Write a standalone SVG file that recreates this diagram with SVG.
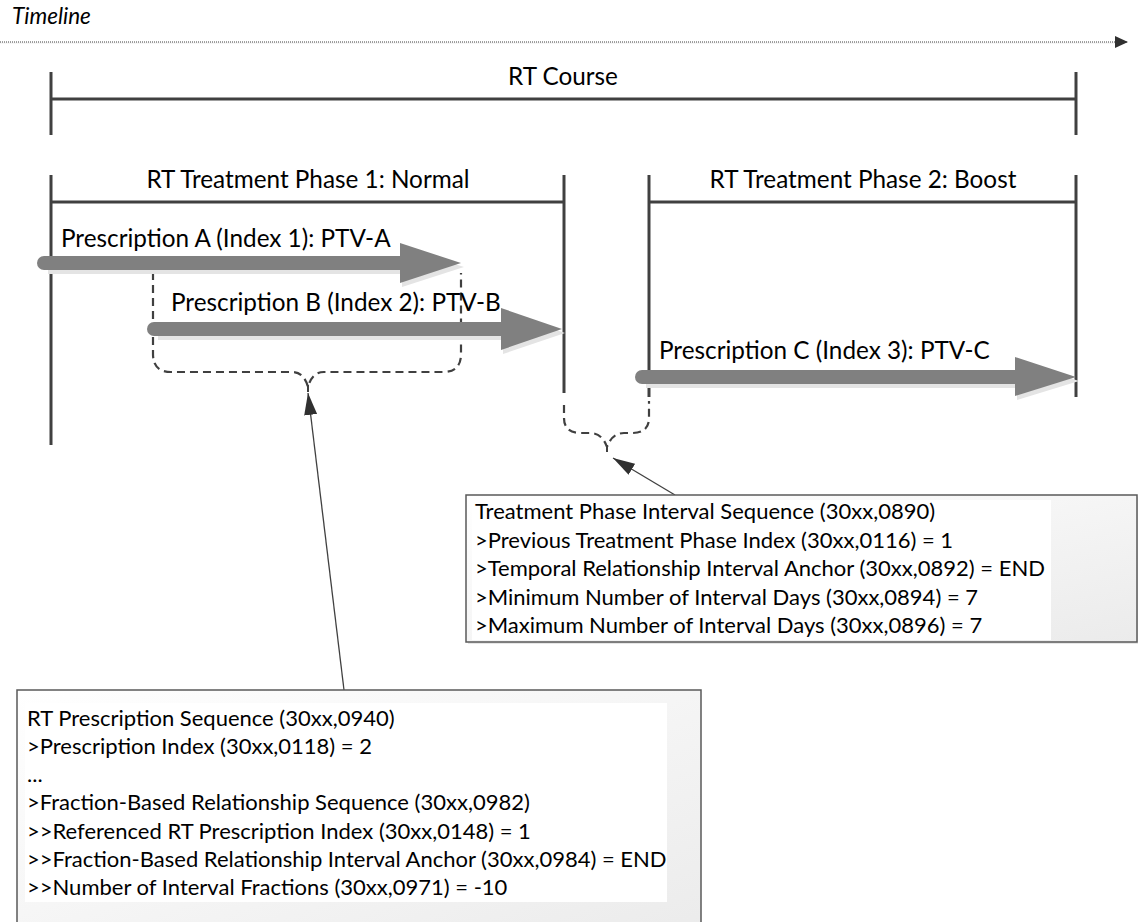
<svg xmlns="http://www.w3.org/2000/svg" width="1138" height="922" viewBox="0 0 1138 922">
<defs>
<style>
.t{font-family:Lato,"Liberation Sans",sans-serif;font-size:24.3px;fill:#000}
.b{font-family:Lato,"Liberation Sans",sans-serif;font-size:22px;fill:#000}
.bar{stroke:#404040;stroke-width:3;fill:none}
.dash{stroke:#404040;stroke-width:2.2;fill:none;stroke-dasharray:8,5}
.shaft{stroke:#808080;stroke-width:14;stroke-linecap:round}
.shad{stroke:#e4e4e4;stroke-width:14}
.head{fill:#808080}
.hs{fill:#e4e4e4}
.box{fill:url(#bg);stroke:#595959;stroke-width:1.5}
.conn{stroke:#404040;stroke-width:1.3;fill:none}
</style>
<linearGradient id="bg" x1="0" y1="0" x2="1" y2="1">
<stop offset="0" stop-color="#ffffff"/>
<stop offset="1" stop-color="#ebebeb"/>
</linearGradient>
<marker id="tl" viewBox="0 0 13 12" refX="13" refY="6" markerWidth="13" markerHeight="12" markerUnits="userSpaceOnUse" orient="auto">
<path d="M0,0 L13,6 L0,12 z" fill="#303030"/>
</marker>
<marker id="ah" viewBox="0 0 22 13" refX="22" refY="6.5" markerWidth="22" markerHeight="13" markerUnits="userSpaceOnUse" orient="auto">
<path d="M0,0 L22,6.5 L0,13 z" fill="#303030"/>
</marker>
</defs>

<g id="timeline">
<text x="12" y="24" style="font-family:Lato,'Liberation Sans',sans-serif;font-size:22.5px;font-style:italic">Timeline</text>
<line x1="0" y1="43" x2="1115" y2="43" stroke="#eeeeee" stroke-width="1"/>
<line x1="0" y1="42" x2="1128" y2="42" stroke="#404040" stroke-width="1" stroke-dasharray="1,1" marker-end="url(#tl)"/>
</g>

<g id="rt-course">
<line class="bar" x1="51" y1="72" x2="51" y2="135"/>
<line class="bar" x1="1076" y1="72" x2="1076" y2="135"/>
<line class="bar" x1="51" y1="99" x2="1076" y2="99" stroke-width="2.5"/>
<text class="t" x="563" y="85" text-anchor="middle">RT Course</text>
</g>

<g id="phase1">
<line class="bar" x1="51" y1="175" x2="51" y2="445"/>
<line class="bar" x1="564" y1="175" x2="564" y2="393"/>
<line class="bar" x1="51" y1="202" x2="564" y2="202" stroke-width="2.5"/>
<text class="t" x="308" y="188" text-anchor="middle">RT Treatment Phase 1: Normal</text>
</g>

<g id="phase2">
<line class="bar" x1="649" y1="175" x2="649" y2="397"/>
<line class="bar" x1="1076" y1="175" x2="1076" y2="397"/>
<line class="bar" x1="649" y1="202" x2="1076" y2="202" stroke-width="2.5"/>
<text class="t" x="863" y="188" text-anchor="middle">RT Treatment Phase 2: Boost</text>
</g>

<g id="brace-prescriptions">
<path class="dash" d="M153,272 V354 Q153,372 171,372 H292 Q304,372 308,387 Q312,372 324,372 H443 Q461,372 461,354 V273"/>
<line x1="308" y1="385" x2="308" y2="392" stroke="#404040" stroke-width="2"/>
</g>

<g id="brace-phases">
<path class="dash" d="M564,405 V418 Q564,433 581,433 H590 Q602,433 607,447 Q612,433 624,433 H632 Q649,433 649,418 V401"/>
<line x1="607" y1="445" x2="607" y2="452" stroke="#404040" stroke-width="2"/>
</g>

<g id="prescription-a">
<line class="shad" x1="48" y1="267" x2="402" y2="267"/>
<polygon class="hs" points="402,247 464,267 402,287"/>
<line class="shaft" x1="44" y1="263" x2="402" y2="263"/>
<polygon class="head" points="400,243 461,263 400,283"/>
<text class="t" x="61" y="247">Prescription A (Index 1): PTV-A</text>
</g>

<g id="prescription-b">
<line class="shad" x1="158" y1="333" x2="503" y2="333"/>
<polygon class="hs" points="503,312 565,333 503,354"/>
<line class="shaft" x1="154" y1="329" x2="503" y2="329"/>
<polygon class="head" points="501,308 562,329 501,350"/>
<text class="t" x="171" y="311">Prescription B (Index 2): PTV-B</text>
</g>

<g id="prescription-c">
<line class="shad" x1="646" y1="381" x2="1017" y2="381"/>
<polygon class="hs" points="1017,361 1079,381 1017,400"/>
<line class="shaft" x1="642" y1="377" x2="1017" y2="377"/>
<polygon class="head" points="1015,357 1076,377 1015,396"/>
<text class="t" x="659" y="359">Prescription C (Index 3): PTV-C</text>
</g>

<g id="connectors">
<line class="conn" x1="344" y1="690" x2="308" y2="393" marker-end="url(#ah)"/>
<line class="conn" x1="675" y1="495" x2="613" y2="458" marker-end="url(#ah)"/>
</g>

<g id="phase-interval-box">
<rect x="468" y="497" width="671" height="147" fill="#e6e6e6"/>
<rect class="box" x="466" y="495" width="671" height="147"/>
<rect x="472" y="500" width="579" height="140" fill="#ffffff"/>
<text class="b" x="475" y="519">Treatment Phase Interval Sequence (30xx,0890)</text>
<text class="b" x="475" y="548">&gt;Previous Treatment Phase Index (30xx,0116) = 1</text>
<text class="b" x="475" y="576">&gt;Temporal Relationship Interval Anchor (30xx,0892) = END</text>
<text class="b" x="475" y="605">&gt;Minimum Number of Interval Days (30xx,0894) = 7</text>
<text class="b" x="475" y="633">&gt;Maximum Number of Interval Days (30xx,0896) = 7</text>
</g>

<g id="prescription-box">
<rect class="box" x="17" y="690" width="684" height="250"/>
<rect x="25" y="703" width="642" height="199" fill="#ffffff"/>
<text class="b" x="27" y="726">RT Prescription Sequence (30xx,0940)</text>
<text class="b" x="27" y="754">&gt;Prescription Index (30xx,0118) = 2</text>
<text class="b" x="27" y="782">...</text>
<text class="b" x="27" y="810">&gt;Fraction-Based Relationship Sequence (30xx,0982)</text>
<text class="b" x="27" y="839">&gt;&gt;Referenced RT Prescription Index (30xx,0148) = 1</text>
<text class="b" x="27" y="867">&gt;&gt;Fraction-Based Relationship Interval Anchor (30xx,0984) = END</text>
<text class="b" x="27" y="895">&gt;&gt;Number of Interval Fractions (30xx,0971) = -10</text>
</g>
</svg>
